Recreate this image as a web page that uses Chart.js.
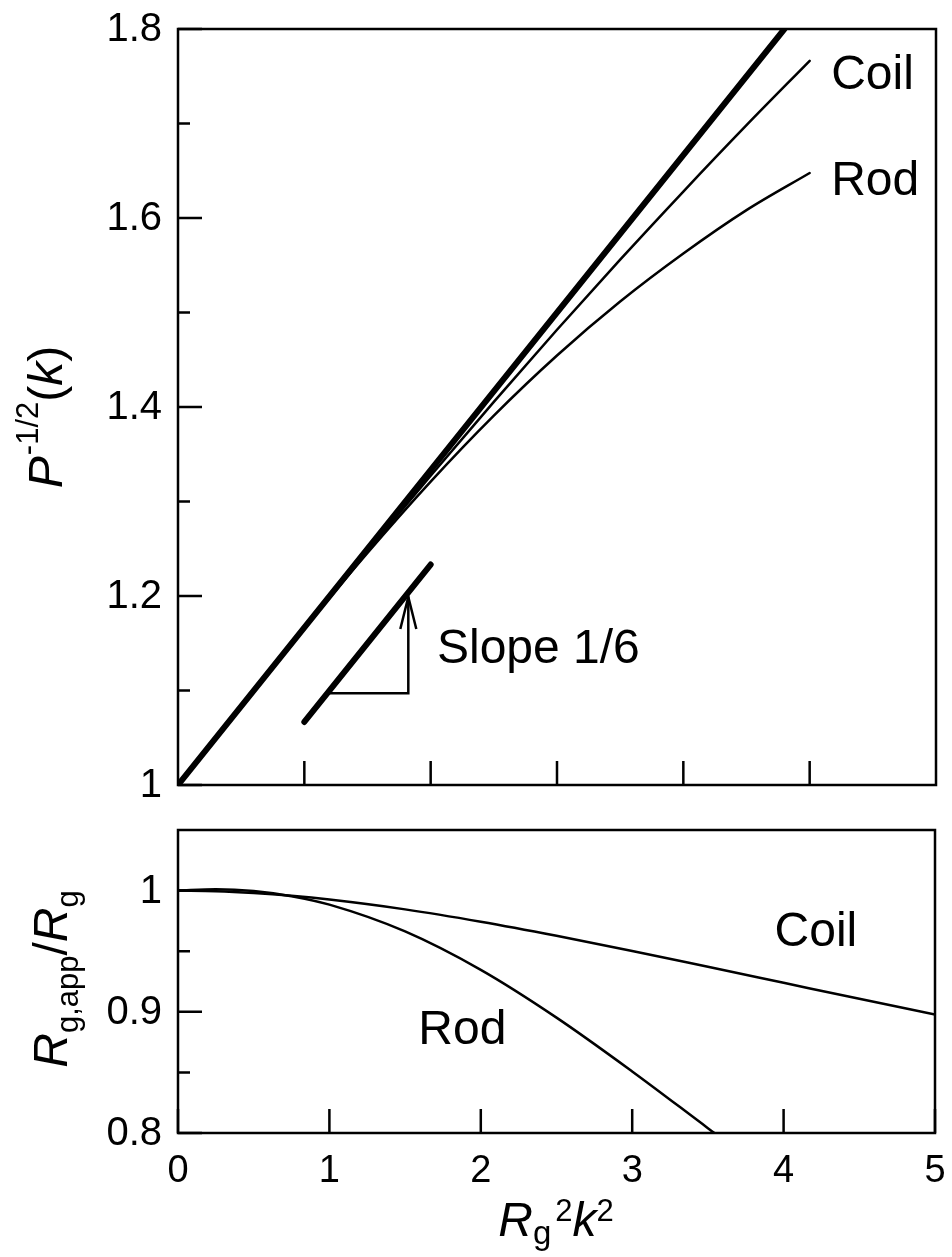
<!DOCTYPE html>
<html>
<head>
<meta charset="utf-8">
<script src="https://cdn.jsdelivr.net/npm/chart.js@4.4.1/dist/chart.umd.min.js"></script>
<style>
  html, body { margin: 0; padding: 0; background: #fff; }
  #wrap { position: relative; width: 952px; height: 1257px; }
  canvas { position: absolute; left: 0; }
  #top { top: 0; }
  #bottom { top: 810px; }
</style>
</head>
<body>
<div id="wrap">
  <canvas id="top" width="952" height="810"></canvas>
  <canvas id="bottom" width="952" height="447"></canvas>
</div>
<script>
// x = Rg^2 k^2
const xValues = [0, 0.25, 0.5, 0.75, 1, 1.5, 2, 2.5, 3, 3.5, 4, 4.5, 5];

// top panel: P^-1/2(k)
const coilInvSqrtP = [1, 1.0417, 1.0832, 1.1246, 1.1658, 1.2473, 1.3273, 1.4054, 1.4817, 1.5559, 1.6280, 1.6982, 1.7663];
const rodInvSqrtP = [1, 1.0417, 1.0835, 1.1249, 1.1659, 1.2457, 1.3211, 1.3909, 1.4545, 1.5116, 1.5624, 1.6083, 1.6476];
const guideX = [0, 4.8];
const guideY = [1, 1.8];
const slopeBarX = [1, 2];
const slopeBarY = [1.0667, 1.2333];
const slopeArrowX = [1.19, 1.823, 1.823];
const slopeArrowY = [1.097, 1.097, 1.199];

// bottom panel: Rg,app / Rg
const coilRatio = [1, 0.9995, 0.9980, 0.9957, 0.9926, 0.9845, 0.9743, 0.9627, 0.9502, 0.9371, 0.9239, 0.9107, 0.8978];
const rodRatioX = [0, 0.25, 0.5, 0.75, 1, 1.5, 2, 2.5, 3, 3.5, 3.543];
const rodRatio = [1, 1.0012, 0.9997, 0.9954, 0.9884, 0.9663, 0.9346, 0.8952, 0.8508, 0.8040, 0.80];

// ticks
const topYTicks = [1, 1.2, 1.4, 1.6, 1.8];
const topYTickLabels = ['1', '1.2', '1.4', '1.6', '1.8'];
const topYMinor = [1.1, 1.3, 1.5, 1.7];
const topXTicks = [1, 2, 3, 4, 5];
const bottomYTicks = [0.8, 0.9, 1];
const bottomYTickLabels = ['0.8', '0.9', '1'];
const bottomYMinor = [0.85, 0.95];
const bottomXTicks = [0, 1, 2, 3, 4, 5];
const bottomXTickLabels = ['0', '1', '2', '3', '4', '5'];

const FAMILY = '"Liberation Sans", Arial, Helvetica, sans-serif';
Chart.defaults.font.family = FAMILY;
Chart.defaults.color = '#000';

function toPoints(xs, ys) {
    return xs.map((x, i) => ({ x: x, y: ys[i] }));
}

function lineSet(xs, ys, width, smooth) {
    return {
        data: toPoints(xs, ys),
        showLine: true,
        borderColor: '#000',
        borderWidth: width,
        pointRadius: 0,
        borderCapStyle: 'round',
        cubicInterpolationMode: smooth ? 'monotone' : 'default',
        tension: 0
    };
}

// box, inward ticks and tick labels
function drawFrame(chart, yMajor, yLabels, yMinor, xMajor, xLabels) {
    const ctx = chart.ctx;
    const a = chart.chartArea;
    const xs = chart.scales.x;
    const ys = chart.scales.y;
    ctx.save();
    ctx.strokeStyle = '#000';
    ctx.lineWidth = 2.5;
    ctx.beginPath();
    yMajor.forEach(v => {
        const p = ys.getPixelForValue(v);
        ctx.moveTo(a.left, p);
        ctx.lineTo(a.left + 24, p);
    });
    yMinor.forEach(v => {
        const p = ys.getPixelForValue(v);
        ctx.moveTo(a.left, p);
        ctx.lineTo(a.left + 12, p);
    });
    xMajor.forEach(v => {
        const p = xs.getPixelForValue(v);
        ctx.moveTo(p, a.bottom);
        ctx.lineTo(p, a.bottom - 24);
    });
    ctx.stroke();
    ctx.strokeRect(a.left, a.top, a.right - a.left, a.bottom - a.top);

    ctx.fillStyle = '#000';
    ctx.textBaseline = 'alphabetic';
    ctx.font = '40px ' + FAMILY;
    ctx.textAlign = 'right';
    yMajor.forEach((v, i) => {
        ctx.fillText(yLabels[i], a.left - 16, ys.getPixelForValue(v) + 12);
    });
    if (xLabels) {
        ctx.font = '38px ' + FAMILY;
        ctx.textAlign = 'center';
        xMajor.forEach((v, i) => {
            ctx.fillText(xLabels[i], xs.getPixelForValue(v), a.bottom + 49);
        });
    }
    ctx.restore();
}

function drawLabel(chart, text, x, y) {
    const ctx = chart.ctx;
    ctx.save();
    ctx.fillStyle = '#000';
    ctx.font = '48px ' + FAMILY;
    ctx.textAlign = 'left';
    ctx.textBaseline = 'alphabetic';
    ctx.fillText(text, chart.scales.x.getPixelForValue(x), chart.scales.y.getPixelForValue(y));
    ctx.restore();
}

// text made of runs (italic letters, sub/superscripts), centred on (cx, cy)
function drawRuns(ctx, runs, cx, cy, angle) {
    ctx.save();
    ctx.fillStyle = '#000';
    ctx.textAlign = 'left';
    ctx.textBaseline = 'alphabetic';
    let total = 0;
    runs.forEach(r => {
        ctx.font = (r.italic ? 'italic ' : '') + r.size + 'px ' + FAMILY;
        r.w = ctx.measureText(r.t).width + (r.gap || 0);
        total += r.w;
    });
    ctx.translate(cx, cy);
    ctx.rotate(angle);
    let pos = -total / 2;
    runs.forEach(r => {
        ctx.font = (r.italic ? 'italic ' : '') + r.size + 'px ' + FAMILY;
        ctx.fillText(r.t, pos, r.dy || 0);
        pos += r.w;
    });
    ctx.restore();
}

const topDeco = {
    id: 'topDeco',
    afterDraw(chart) {
        const ctx = chart.ctx;
        drawFrame(chart, topYTicks, topYTickLabels, topYMinor, topXTicks, null);

        // open arrow head on the slope triangle
        const n = slopeArrowX.length - 1;
        const tx = chart.scales.x.getPixelForValue(slopeArrowX[n]);
        const ty = chart.scales.y.getPixelForValue(slopeArrowY[n]);
        ctx.save();
        ctx.strokeStyle = '#000';
        ctx.lineWidth = 2.5;
        ctx.beginPath();
        ctx.moveTo(tx - 8, ty + 32);
        ctx.lineTo(tx, ty);
        ctx.lineTo(tx + 8, ty + 32);
        ctx.stroke();
        ctx.restore();

        drawLabel(chart, 'Coil', 5.17, 1.737);
        drawLabel(chart, 'Rod', 5.17, 1.624);
        drawLabel(chart, 'Slope 1/6', 2.05, 1.129);

        drawRuns(ctx, [
            { t: 'P', size: 48, italic: true, gap: 1 },
            { t: '-1/2', size: 31, dy: -24 },
            { t: '(', size: 48 },
            { t: 'k', size: 48, italic: true },
            { t: ')', size: 48 }
        ], 62, 417, -Math.PI / 2);
    }
};

const bottomDeco = {
    id: 'bottomDeco',
    afterDraw(chart) {
        const ctx = chart.ctx;
        drawFrame(chart, bottomYTicks, bottomYTickLabels, bottomYMinor, bottomXTicks, bottomXTickLabels);

        drawLabel(chart, 'Coil', 3.94, 0.9543);
        drawLabel(chart, 'Rod', 1.587, 0.8733);

        drawRuns(ctx, [
            { t: 'R', size: 48, italic: true },
            { t: 'g,app', size: 31, dy: 11 },
            { t: '/', size: 48 },
            { t: 'R', size: 48, italic: true },
            { t: 'g', size: 31, dy: 11 }
        ], 67, 169, -Math.PI / 2);

        drawRuns(ctx, [
            { t: 'R', size: 48, italic: true },
            { t: 'g', size: 33, dy: 8, gap: 4 },
            { t: '2', size: 31, dy: -15 },
            { t: 'k', size: 48, italic: true },
            { t: '2', size: 31, dy: -15 }
        ], 556, 426, 0);
    }
};

function yScale(min, max, ticks) {
    return {
        type: 'linear',
        min: min,
        max: max,
        afterBuildTicks: s => { s.ticks = ticks.map(v => ({ value: v })); },
        afterFit: s => { s.width = 178; },
        grid: { display: false, drawTicks: false },
        border: { display: false },
        ticks: { display: false }
    };
}

new Chart(document.getElementById('top'), {
    type: 'scatter',
    data: {
        datasets: [
            lineSet(guideX, guideY, 6, false),
            lineSet(xValues, coilInvSqrtP, 2.5, true),
            lineSet(xValues, rodInvSqrtP, 2.5, true),
            lineSet(slopeBarX, slopeBarY, 6, false),
            lineSet(slopeArrowX, slopeArrowY, 2.5, false)
        ]
    },
    options: {
        responsive: false,
        animation: false,
        devicePixelRatio: 1,
        layout: { padding: { top: 29, right: 16, bottom: 25, left: 0 } },
        plugins: { legend: { display: false }, tooltip: { enabled: false } },
        scales: {
            x: { type: 'linear', min: 0, max: 6, display: false },
            y: yScale(1, 1.8, topYTicks)
        }
    },
    plugins: [topDeco]
});

new Chart(document.getElementById('bottom'), {
    type: 'scatter',
    data: {
        datasets: [
            lineSet(xValues, coilRatio, 2.5, true),
            lineSet(rodRatioX, rodRatio, 2.5, true)
        ]
    },
    options: {
        responsive: false,
        animation: false,
        devicePixelRatio: 1,
        layout: { padding: { top: 20, right: 17, bottom: 0, left: 0 } },
        plugins: { legend: { display: false }, tooltip: { enabled: false } },
        scales: {
            x: {
                type: 'linear',
                min: 0,
                max: 5,
                afterBuildTicks: s => { s.ticks = bottomXTicks.map(v => ({ value: v })); },
                afterFit: s => { s.height = 124; },
                grid: { display: false, drawTicks: false },
                border: { display: false },
                ticks: { display: false }
            },
            y: yScale(0.8, 1.05, bottomYTicks)
        }
    },
    plugins: [bottomDeco]
});
</script>
</body>
</html>
